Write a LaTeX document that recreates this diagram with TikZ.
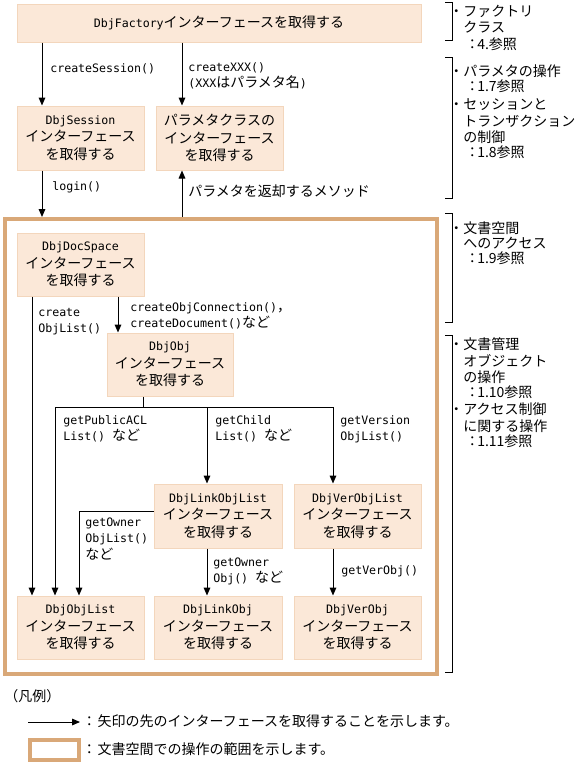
\documentclass[tikz,border=0pt]{standalone}
\usepackage{fontspec}
\setmainfont{Noto Sans CJK JP}
\newfontfamily\monof[Scale=0.83]{DejaVu Sans Mono}
\newcommand\M[1]{{\monof #1}}
\usetikzlibrary{arrows.meta}
\definecolor{boxfill}{RGB}{251,232,216}
\definecolor{boxline}{RGB}{243,214,188}
\definecolor{framec}{RGB}{217,168,120}
\newcommand\lb[4]{\node[lbl] (#1) at (#2,#3) {#4};}
\begin{document}
\begin{tikzpicture}[x=0.75pt,y=-0.75pt,
  every node/.style={font=\fontsize{10.5}{13.1}\selectfont, inner sep=0pt},
  box/.style={draw=boxline, fill=boxfill, line width=0.75pt, align=center, minimum width=95.25pt, minimum height=48pt},
  lbl/.style={anchor=west, text height=8.5pt, text depth=2pt},
  arr/.style={line width=0.75pt, -{Triangle[length=6pt,width=5pt]}},
  brk/.style={line width=0.75pt}]
\useasboundingbox (0,0) rectangle (580,765);

% frame
\node[draw=framec, line width=3pt, minimum width=324pt, minimum height=341.25pt] (frame) at (221,446.5) {};

% boxes
\node[box, minimum width=303pt, minimum height=28.5pt] (fac) at (219,23) {\M{DbjFactory}インターフェースを取得する};
\node[box] (ses) at (80.5,138) {\M{DbjSession}\\インターフェース\\を取得する};
\node[box] (par) at (219.5,138) {パラメタクラスの\\インターフェース\\を取得する};
\node[box, minimum height=47.25pt] (doc) at (80.5,264.5) {\M{DbjDocSpace}\\インターフェース\\を取得する};
\node[box, minimum width=94.5pt, minimum height=47.25pt] (obj) at (170,364.5) {\M{DbjObj}\\インターフェース\\を取得する};
\node[box, minimum width=96pt] (lol) at (218,516) {\M{DbjLinkObjList}\\インターフェース\\を取得する};
\node[box] (vol) at (357.5,516) {\M{DbjVerObjList}\\インターフェース\\を取得する};
\node[box, minimum height=47.25pt] (ol) at (80.5,627.5) {\M{DbjObjList}\\インターフェース\\を取得する};
\node[box, minimum width=96pt, minimum height=47.25pt] (lo) at (218,627.5) {\M{DbjLinkObj}\\インターフェース\\を取得する};
\node[box, minimum height=47.25pt] (vo) at (357.5,627.5) {\M{DbjVerObj}\\インターフェース\\を取得する};

% column coordinates
\coordinate (xa) at (42,0);
\coordinate (xb) at (182,0);
\coordinate (xc) at (32,0);
\coordinate (xd) at (118,0);
\coordinate (xe) at (143,0);
\coordinate (xf) at (55,0);
\coordinate (xg) at (207,0);
\coordinate (xh) at (333,0);
\coordinate (xi) at (79,0);
\coordinate (hl) at (0,407);

% connectors
\draw[arr] (fac.south -| xa) -- (ses.north -| xa);
\draw[arr] (fac.south -| xb) -- (par.north -| xb);
\draw[arr] (ses.south -| xa) -- (frame.north -| xa);
\draw[arr] (frame.north -| xb) -- (par.south -| xb);
\draw[arr] (doc.south -| xc) -- (ol.north -| xc);
\draw[arr] (doc.south -| xd) -- (obj.north -| xd);
\draw[arr] (obj.south -| xe) |- (xf |- hl) -- (ol.north -| xf);
\draw[arr] (xe |- hl) -- (xh |- hl) -- (vol.north -| xh);
\draw[arr] (xg |- hl) -- (lol.north -| xg);
\draw[arr] ([yshift=3.75pt]lol.west) -| (ol.north -| xi);
\draw[arr] (lol.south -| xg) -- (lo.north -| xg);
\draw[arr] (vol.south -| xh) -- (vo.north -| xh);

% connector labels
\lb{l1}{50}{68}{\M{createSession()}}
\lb{l2}{188}{67}{\M{createXXX()}}
\lb{l3}{188}{83}{\M{(XXX}はパラメタ名\M{)}}
\lb{l4}{52}{186}{\M{login()}}
\lb{l5}{188}{192}{パラメタを返却するメソッド}
\lb{l6}{38}{312}{\M{create}}
\lb{l7}{38}{328}{\M{ObjList()}}
\lb{l8}{130}{307}{\M{createObjConnection()}，}
\lb{l9}{130}{323}{\M{createDocument()}など}
\lb{l10}{63}{420}{\M{getPublicACL}}
\lb{l11}{63}{436}{\M{List() }など}
\lb{l12}{215}{420}{\M{getChild}}
\lb{l13}{215}{436}{\M{List() }など}
\lb{l14}{340}{420}{\M{getVersion}}
\lb{l15}{340}{436}{\M{ObjList()}}
\lb{l16}{85}{522}{\M{getOwner}}
\lb{l17}{85}{538}{\M{ObjList()}}
\lb{l18}{85}{555}{など}
\lb{l19}{213}{562}{\M{getOwner}}
\lb{l20}{213}{578}{\M{Obj() }など}
\lb{l21}{341}{570}{\M{getVerObj()}}

% brackets
\draw[brk] (445,2) -- (452,2) -- (452,40) -- (445,40);
\draw[brk] (445,57) -- (452,57) -- (452,198) -- (445,198);
\draw[brk] (445,213) -- (452,213) -- (452,322) -- (445,322);
\draw[brk] (445,335) -- (452,335) -- (452,672) -- (445,672);

% notes
\lb{n1}{449}{12}{・ファクトリ}
\lb{n2}{463}{28}{クラス}
\lb{n3}{465}{45}{：\kern-1.5pt 4.参照}
\lb{n4}{449}{72}{・パラメタの操作}
\lb{n5}{465}{87}{：\kern-1.5pt 1.7参照}
\lb{n6}{449}{105}{・セッションと}
\lb{n7}{463}{122}{トランザクション}
\lb{n8}{463}{138}{の制御}
\lb{n9}{465}{153}{：\kern-1.5pt 1.8参照}
\lb{n10}{449}{229}{・文書空間}
\lb{n11}{463}{244}{へのアクセス}
\lb{n12}{465}{259}{：\kern-1.5pt 1.9参照}
\lb{n13}{449}{345}{・文書管理}
\lb{n14}{463}{362}{オブジェクト}
\lb{n15}{463}{378}{の操作}
\lb{n16}{465}{393}{：\kern-1.5pt 1.10参照}
\lb{n17}{449}{410}{・アクセス制御}
\lb{n18}{463}{427}{に関する操作}
\lb{n19}{465}{442}{：\kern-1.5pt 1.11参照}

% legend
\lb{g0}{4}{697}{（凡例）}
\coordinate (lga) at (28,722);
\coordinate (lgb) at (80,722);
\draw[arr] (lga) -- (lgb);
\lb{g1}{82}{722}{：\kern1pt 矢印の先のインターフェースを取得することを示します。}
\node[draw=framec, line width=3pt, minimum width=37.1pt, minimum height=15pt] (lgbox) at (54.25,749.5) {};
\lb{g2}{82}{750}{：\kern1pt 文書空間での操作の範囲を示します。}
\end{tikzpicture}
\end{document}
